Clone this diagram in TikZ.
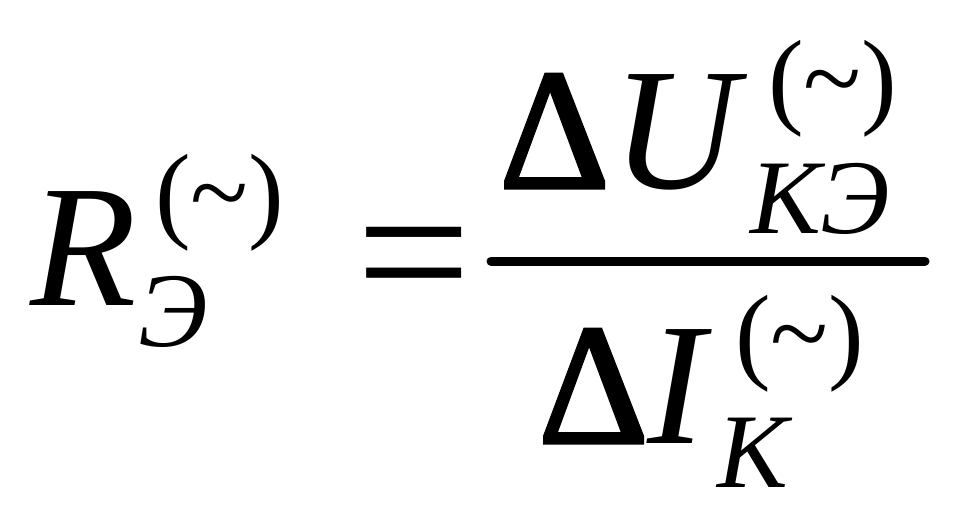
\documentclass[tikz,border=0pt]{standalone}
\usepackage{fontspec}
\setmainfont{Liberation Serif}
\newfontfamily\deltafont[FakeBold=2]{Liberation Serif}
\tikzset{
  bigsym/.style={inner sep=0pt, anchor=base west, font=\fontsize{174}{174}\selectfont\itshape},
  bigdelta/.style={inner sep=0pt, anchor=base west, font=\fontsize{172}{172}\deltafont},
  smallsym/.style={inner sep=0pt, anchor=base west, font=\fontsize{106}{106}\selectfont\itshape},
  smallpar/.style={inner sep=0pt, anchor=base west, font=\fontsize{107}{107}\selectfont},
  eqsign/.style={inner sep=0pt, anchor=base west, font=\fontsize{204}{204}\selectfont}
}
\begin{document}
\begin{tikzpicture}[x=1pt,y=-1pt]
    \useasboundingbox (0,0) rectangle (957,522);

    \coordinate (R) at (30,305);
    \coordinate (R1) at (155,228);
    \coordinate (R2) at (138,346);
    \coordinate (EQ) at (356,320);

    \coordinate (N1) at (499,188);
    \coordinate (N2) at (612,188);
    \coordinate (N3) at (768,114);
    \coordinate (N4) at (750,233);

    \coordinate (D1) at (538,443);
    \coordinate (D2) at (647,443);
    \coordinate (D3) at (735,369);
    \coordinate (D4) at (717,487);

    \coordinate (L1) at (491,261);
    \coordinate (L2) at (925,261);

    \draw[line width=9pt, line cap=round] (L1) -- (L2);

%labels
    \node[bigsym] (rr) at (R) {R};
    \node[smallpar] (rsup) at (R1) {(\textasciitilde)};
    \node[smallsym] (rsub) at (R2) {Э};
    \node[eqsign] (eq) at (EQ) {=};

    \node[bigdelta] (du) at (N1) {Δ};
    \node[bigsym] (uu) at (N2) {U};
    \node[smallpar] (usup) at (N3) {(\textasciitilde)};
    \node[smallsym] (usub) at (N4) {KЭ};

    \node[bigdelta] (di) at (D1) {Δ};
    \node[bigsym] (ii) at (D2) {I};
    \node[smallpar] (isup) at (D3) {(\textasciitilde)};
    \node[smallsym] (isub) at (D4) {K};

\end{tikzpicture}
\end{document}
